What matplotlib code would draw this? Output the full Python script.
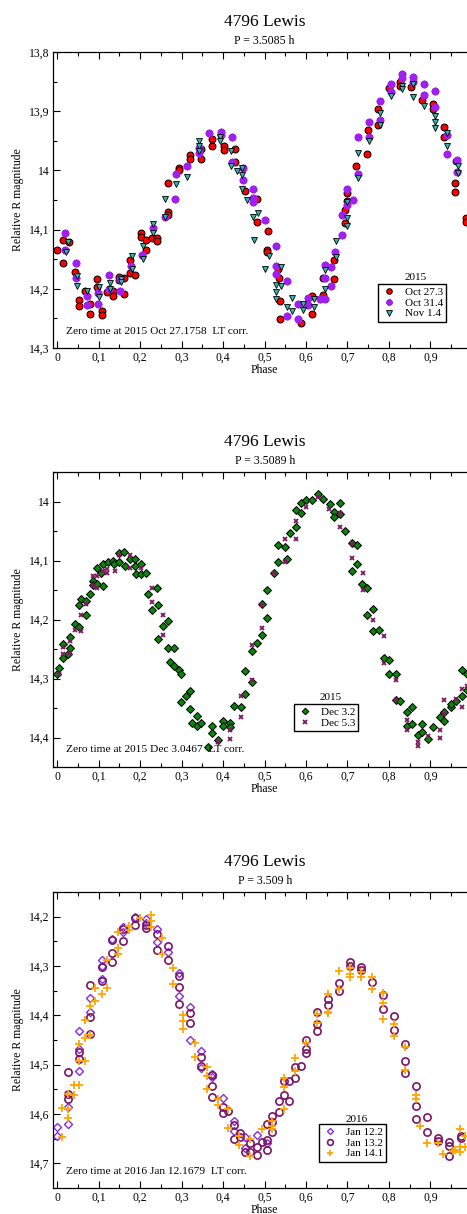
import numpy as np
import matplotlib
matplotlib.use("Agg")
import matplotlib.pyplot as plt
from matplotlib.ticker import MultipleLocator, FuncFormatter

plt.rcParams['font.family'] = ['Liberation Serif', 'DejaVu Serif']

# ---------------- data (phase, relative R magnitude) ----------------
oct27 = [(0.000, 14.134), (0.0145, 14.118), (0.028, 14.121), (0.0145, 14.157), (0.043, 14.172), (0.053, 14.219),
         (0.053, 14.229), (0.079, 14.226), (0.079, 14.242), (0.068, 14.203), (0.096, 14.183), (0.096, 14.197),
         (0.107, 14.237), (0.107, 14.244), (0.121, 14.206), (0.134, 14.204), (0.134, 14.212), (0.149, 14.180),
         (0.149, 14.185), (0.160, 14.181), (0.160, 14.209), (0.175, 14.174), (0.175, 14.151), (0.187, 14.177),
         (0.202, 14.106), (0.202, 14.112), (0.213, 14.118), (0.213, 14.135), (0.228, 14.114), (0.240, 14.114),
         (0.240, 14.120), (0.266, 14.070), (0.266, 14.076), (0.266, 14.021), (0.294, 13.996), (0.294, 14.000),
         (0.320, 13.974), (0.320, 13.981), (0.346, 13.964), (0.346, 13.980), (0.374, 13.958), (0.374, 13.947),
         (0.401, 13.958), (0.401, 13.966), (0.429, 13.964), (0.429, 13.985), (0.4535, 14.034), (0.481, 14.048),
         (0.482, 14.088), (0.508, 14.103), (0.507, 14.135), (0.507, 14.138), (0.533, 14.167), (0.535, 14.181),
         (0.538, 14.221), (0.538, 14.251), (0.589, 14.257), (0.615, 14.212), (0.615, 14.242), (0.641, 14.210),
         (0.641, 14.181), (0.668, 14.152), (0.668, 14.183), (0.695, 14.067), (0.695, 14.089), (0.698, 14.039),
         (0.698, 14.052), (0.721, 13.992), (0.747, 13.972), (0.750, 13.931), (0.774, 13.923), (0.774, 13.896),
         (0.800, 13.860), (0.827, 13.851), (0.827, 13.858), (0.853, 13.859), (0.881, 13.881), (0.907, 13.888),
         (0.907, 13.896), (0.934, 13.927), (0.934, 13.944), (0.961, 13.984), (0.960, 14.021), (0.960, 14.037),
         (0.986, 14.080), (0.986, 14.088)]

oct31 = [(0.0185, 14.106), (0.0185, 14.135), (0.045, 14.156), (0.045, 14.182), (0.072, 14.213), (0.072, 14.228),
         (0.099, 14.207), (0.099, 14.225), (0.125, 14.176), (0.125, 14.201), (0.152, 14.204), (0.152, 14.183),
         (0.178, 14.162), (0.205, 14.143), (0.232, 14.097), (0.259, 14.079), (0.285, 14.049), (0.286, 14.006),
         (0.313, 13.993), (0.341, 13.962), (0.341, 13.970), (0.367, 13.936), (0.394, 13.935), (0.394, 13.940),
         (0.421, 13.944), (0.421, 13.985), (0.448, 13.996), (0.448, 14.016), (0.473, 14.032), (0.473, 14.046),
         (0.473, 14.053), (0.500, 14.083), (0.527, 14.127), (0.527, 14.162), (0.527, 14.175), (0.553, 14.186),
         (0.553, 14.246), (0.580, 14.251), (0.580, 14.226), (0.606, 14.215), (0.606, 14.227), (0.633, 14.218),
         (0.646, 14.182), (0.646, 14.159), (0.646, 14.217), (0.660, 14.163), (0.660, 14.195), (0.670, 14.137),
         (0.687, 14.109), (0.687, 14.075), (0.698, 14.032), (0.698, 14.059), (0.713, 14.050), (0.725, 13.944),
         (0.725, 14.006), (0.751, 13.918), (0.751, 13.943), (0.778, 13.882), (0.778, 13.915), (0.805, 13.868),
         (0.805, 13.854), (0.832, 13.837), (0.832, 13.844), (0.859, 13.842), (0.859, 13.850), (0.885, 13.854),
         (0.885, 13.873), (0.912, 13.866), (0.912, 13.893), (0.939, 13.940), (0.939, 13.972), (0.965, 13.982),
         (0.965, 14.003)]

nov1 = [(0.020, 14.138), (0.025, 14.121), (0.047, 14.178), (0.047, 14.196), (0.072, 14.203), (0.100, 14.197),
        (0.100, 14.214), (0.127, 14.190), (0.127, 14.200), (0.153, 14.183), (0.153, 14.189), (0.180, 14.145),
        (0.180, 14.166), (0.207, 14.128), (0.207, 14.150), (0.232, 14.090), (0.232, 14.105), (0.259, 14.048),
        (0.259, 14.078), (0.286, 14.023), (0.314, 14.011), (0.341, 13.951), (0.341, 13.959), (0.341, 13.968),
        (0.392, 13.944), (0.392, 13.951), (0.418, 13.992), (0.418, 13.968), (0.433, 14.001), (0.446, 13.996),
        (0.446, 14.007), (0.446, 14.032), (0.458, 14.050), (0.473, 14.078), (0.475, 14.118), (0.485, 14.072),
        (0.501, 14.166), (0.511, 14.144), (0.527, 14.193), (0.527, 14.217), (0.527, 14.205), (0.540, 14.196),
        (0.540, 14.164), (0.553, 14.230), (0.566, 14.216), (0.566, 14.238), (0.593, 14.226), (0.593, 14.235),
        (0.620, 14.217), (0.620, 14.230), (0.646, 14.168), (0.646, 14.200), (0.673, 14.146), (0.673, 14.120),
        (0.700, 14.081), (0.700, 14.094), (0.700, 14.054), (0.726, 14.013), (0.726, 13.970), (0.751, 13.951),
        (0.778, 13.903), (0.778, 13.923), (0.806, 13.875), (0.832, 13.857), (0.832, 13.863), (0.859, 13.876),
        (0.859, 13.854), (0.885, 13.891), (0.912, 13.908), (0.912, 13.919), (0.912, 13.928), (0.939, 13.937),
        (0.939, 13.958), (0.966, 13.992), (0.966, 14.005)]

dec3 = [(0.056, 14.165), (0.079, 14.156), (0.085, 14.134), (0.085, 14.141), (0.095, 14.113), (0.095, 14.140),
        (0.106, 14.122), (0.111, 14.106), (0.111, 14.143), (0.123, 14.103), (0.134, 14.101), (0.137, 14.106),
        (0.149, 14.087), (0.149, 14.102), (0.160, 14.086), (0.164, 14.110), (0.176, 14.097), (0.187, 14.097),
        (0.187, 14.110), (0.191, 14.123), (0.202, 14.106), (0.202, 14.123), (0.214, 14.121), (0.218, 14.156),
        (0.240, 14.146), (0.507, 14.150), (0.523, 14.121), (0.533, 14.074), (0.533, 14.102), (0.549, 14.077),
        (0.553, 14.098), (0.561, 14.053), (0.575, 14.044), (0.575, 14.014), (0.588, 14.003), (0.588, 14.020),
        (0.601, 13.998), (0.615, 13.997), (0.630, 13.988), (0.642, 13.996), (0.658, 14.005), (0.668, 14.017),
        (0.668, 14.027), (0.682, 14.003), (0.682, 14.022), (0.695, 14.050), (0.710, 14.070), (0.722, 14.074),
        (0.722, 14.106), (0.710, 14.117), (0.736, 14.140), (0.747, 14.146),
        (0.000, 14.293), (0.005, 14.283), (0.0145, 14.241), (0.0145, 14.265), (0.026, 14.259), (0.031, 14.230),
        (0.031, 14.248), (0.042, 14.208), (0.052, 14.176), (0.053, 14.212), (0.069, 14.168), (0.069, 14.192),
        (0.229, 14.184), (0.244, 14.175), (0.256, 14.211), (0.266, 14.203), (0.244, 14.233), (0.267, 14.248),
        (0.282, 14.248), (0.272, 14.272), (0.282, 14.278), (0.294, 14.286), (0.298, 14.292), (0.298, 14.339),
        (0.310, 14.330), (0.320, 14.321), (0.320, 14.351), (0.324, 14.376), (0.336, 14.381), (0.336, 14.363),
        (0.347, 14.375), (0.364, 14.416), (0.374, 14.380), (0.374, 14.393), (0.388, 14.405), (0.400, 14.372),
        (0.400, 14.380), (0.417, 14.375), (0.417, 14.383), (0.427, 14.346), (0.442, 14.348), (0.454, 14.326),
        (0.454, 14.288), (0.469, 14.306), (0.469, 14.253), (0.481, 14.240), (0.495, 14.227), (0.495, 14.173),
        (0.507, 14.197), (0.747, 14.192), (0.762, 14.182), (0.762, 14.220), (0.775, 14.217), (0.789, 14.265),
        (0.801, 14.268), (0.801, 14.293), (0.816, 14.293), (0.816, 14.336), (0.827, 14.338), (0.843, 14.357),
        (0.843, 14.381), (0.855, 14.348), (0.855, 14.377), (0.869, 14.395), (0.881, 14.377), (0.881, 14.390),
        (0.895, 14.402), (0.907, 14.383), (0.923, 14.366), (0.934, 14.372), (0.934, 14.356), (0.949, 14.348),
        (0.949, 14.343), (0.961, 14.338), (0.976, 14.329), (0.976, 14.285), (0.988, 14.319), (0.988, 14.293)]

dec5 = [(0.085, 14.126), (0.085, 14.144), (0.096, 14.126), (0.096, 14.146), (0.111, 14.117), (0.121, 14.114),
        (0.121, 14.121), (0.139, 14.117), (0.149, 14.090), (0.175, 14.091), (0.175, 14.113), (0.202, 14.113),
        (0.228, 14.147), (0.523, 14.121), (0.549, 14.063), (0.549, 14.102), (0.575, 14.033), (0.575, 14.063),
        (0.601, 14.010), (0.630, 13.993), (0.656, 14.013), (0.682, 14.020), (0.682, 14.043), (0.710, 14.071),
        (0.710, 14.095), (0.737, 14.121), (0.737, 14.150),
        (0.005, 14.293), (0.0145, 14.246), (0.0145, 14.259), (0.031, 14.237), (0.031, 14.257), (0.042, 14.218),
        (0.057, 14.220), (0.057, 14.193), (0.069, 14.173), (0.229, 14.171), (0.256, 14.193), (0.256, 14.227),
        (0.442, 14.329), (0.442, 14.365), (0.417, 14.387), (0.417, 14.402), (0.388, 14.407), (0.469, 14.302),
        (0.469, 14.244), (0.495, 14.214), (0.495, 14.175), (0.762, 14.201), (0.789, 14.228), (0.789, 14.273),
        (0.816, 14.303), (0.816, 14.336), (0.843, 14.370), (0.843, 14.387), (0.869, 14.407), (0.869, 14.414),
        (0.895, 14.398), (0.923, 14.387), (0.923, 14.401), (0.934, 14.361), (0.934, 14.337), (0.961, 14.335),
        (0.976, 14.318), (0.976, 14.348), (0.988, 14.313)]

jan12 = [(0.079, 14.393), (0.079, 14.364), (0.107, 14.287), (0.107, 14.300), (0.107, 14.327), (0.133, 14.245),
         (0.159, 14.220), (0.159, 14.231), (0.187, 14.201), (0.213, 14.205), (0.213, 14.213), (0.240, 14.224),
         (0.240, 14.251), (0.266, 14.271), (0.293, 14.315), (0.293, 14.361), (0.320, 14.384),
         (0.000, 14.627), (0.000, 14.644), (0.0265, 14.586), (0.0265, 14.620), (0.053, 14.432), (0.053, 14.468),
         (0.053, 14.513), (0.320, 14.450), (0.347, 14.473), (0.347, 14.507), (0.374, 14.518), (0.374, 14.524),
         (0.400, 14.568), (0.427, 14.615), (0.427, 14.634), (0.454, 14.646), (0.454, 14.668), (0.481, 14.642),
         (0.507, 14.658)]

jan13 = [(0.079, 14.339), (0.079, 14.403), (0.107, 14.303), (0.107, 14.330), (0.133, 14.291), (0.133, 14.273),
         (0.133, 14.247), (0.159, 14.250), (0.159, 14.224), (0.187, 14.217), (0.187, 14.203), (0.213, 14.217),
         (0.213, 14.222), (0.240, 14.235), (0.240, 14.268), (0.266, 14.259), (0.266, 14.287), (0.293, 14.320),
         (0.293, 14.342), (0.293, 14.378), (0.320, 14.395), (0.626, 14.393), (0.653, 14.367), (0.653, 14.380),
         (0.679, 14.334), (0.679, 14.350), (0.705, 14.292), (0.705, 14.301), (0.733, 14.303), (0.733, 14.308),
         (0.759, 14.332), (0.786, 14.359), (0.786, 14.388), (0.812, 14.401),
         (0.0265, 14.515), (0.0265, 14.559), (0.0265, 14.570), (0.053, 14.474), (0.053, 14.488), (0.080, 14.437),
         (0.320, 14.415), (0.347, 14.484), (0.347, 14.502), (0.374, 14.520), (0.374, 14.543), (0.374, 14.566),
         (0.400, 14.586), (0.400, 14.597), (0.413, 14.593), (0.427, 14.622), (0.427, 14.651), (0.441, 14.638),
         (0.441, 14.646), (0.454, 14.678), (0.466, 14.659), (0.466, 14.678), (0.481, 14.667), (0.481, 14.683),
         (0.493, 14.656), (0.507, 14.653), (0.507, 14.673), (0.507, 14.621), (0.519, 14.605), (0.519, 14.617),
         (0.519, 14.636), (0.535, 14.574), (0.535, 14.595), (0.547, 14.561), (0.547, 14.534), (0.560, 14.534),
         (0.560, 14.573), (0.573, 14.527), (0.573, 14.505), (0.588, 14.503), (0.600, 14.469), (0.600, 14.477),
         (0.600, 14.449), (0.626, 14.418), (0.626, 14.432), (0.812, 14.429), (0.840, 14.459), (0.840, 14.493),
         (0.840, 14.517), (0.865, 14.544), (0.865, 14.583), (0.865, 14.610), (0.892, 14.606), (0.892, 14.636),
         (0.919, 14.649), (0.919, 14.654), (0.946, 14.657), (0.946, 14.665), (0.946, 14.686), (0.973, 14.644),
         (0.973, 14.649)]

jan14 = [(0.079, 14.381), (0.092, 14.344), (0.092, 14.371), (0.107, 14.357), (0.119, 14.344), (0.119, 14.287),
         (0.146, 14.276), (0.146, 14.264), (0.146, 14.232), (0.173, 14.218), (0.173, 14.227), (0.200, 14.203),
         (0.226, 14.196), (0.226, 14.209), (0.226, 14.220), (0.253, 14.243), (0.253, 14.276), (0.278, 14.304),
         (0.278, 14.337), (0.304, 14.400), (0.626, 14.398), (0.653, 14.356), (0.653, 14.393), (0.679, 14.310),
         (0.679, 14.346), (0.705, 14.305), (0.705, 14.317), (0.705, 14.322), (0.733, 14.313), (0.733, 14.322),
         (0.759, 14.322), (0.759, 14.346), (0.786, 14.354), (0.786, 14.374), (0.786, 14.408),
         (0.0105, 14.588), (0.0105, 14.646), (0.0265, 14.559), (0.0265, 14.590), (0.0265, 14.608), (0.040, 14.542),
         (0.040, 14.561), (0.053, 14.458), (0.053, 14.493), (0.053, 14.541), (0.067, 14.445), (0.067, 14.493),
         (0.067, 14.410), (0.080, 14.439), (0.304, 14.412), (0.304, 14.427), (0.332, 14.457), (0.332, 14.484),
         (0.360, 14.505), (0.360, 14.522), (0.360, 14.549), (0.387, 14.570), (0.387, 14.581), (0.413, 14.590),
         (0.413, 14.629), (0.439, 14.644), (0.439, 14.663), (0.466, 14.651), (0.466, 14.686), (0.493, 14.631),
         (0.519, 14.615), (0.519, 14.624), (0.519, 14.631), (0.547, 14.546), (0.547, 14.527), (0.547, 14.589),
         (0.573, 14.513), (0.573, 14.486), (0.600, 14.456), (0.626, 14.415), (0.653, 14.395), (0.812, 14.418),
         (0.812, 14.442), (0.839, 14.464), (0.839, 14.510), (0.865, 14.561), (0.865, 14.570), (0.876, 14.625),
         (0.893, 14.659), (0.919, 14.659), (0.931, 14.681), (0.954, 14.676), (0.960, 14.672), (0.971, 14.678),
         (0.971, 14.631), (0.971, 14.666), (0.983, 14.644), (0.983, 14.666)]

periods = ["P = 3.5085 h", "P = 3.5089 h", "P = 3.509 h"]
zero_times = ["Zero time at 2015 Oct 27.1758  LT corr.",
              "Zero time at 2015 Dec 3.0467  LT corr.",
              "Zero time at 2016 Jan 12.1679  LT corr."]
years = ["2015", "2015", "2016"]
ylims = [(14.3, 13.8), (14.45, 13.95), (14.75, 14.15)]

# ---------------- layout (pixels of a 467x1214 image) ----------------
W, H = 467, 1214
fig = plt.figure(figsize=(W / 100, H / 100), dpi=100)


def fx(x):
    return x / W


def fy(y):
    return 1 - y / H


def comma_fmt(v, pos):
    s = f"{v:.2f}".rstrip("0").rstrip(".")
    return s.replace(".", ",")


# axes left edge at phase -0.0095; 0.1 phase = 41.45 px; right edge runs past the image
x0_px, scale = 57.3, 414.5
xmin, xmax = -0.0095, 1.01
left_px = x0_px + xmin * scale
right_px = x0_px + xmax * scale

panels = [(52, 348), (472, 767), (892, 1188)]


def make_axes(i):
    top, bot = panels[i]
    ax = fig.add_axes([fx(left_px), fy(bot), (right_px - left_px) / W, (bot - top) / H])
    ax.set_xlim(xmin, xmax)
    ax.set_ylim(*ylims[i])
    ax.xaxis.set_minor_locator(MultipleLocator(0.05))
    ax.yaxis.set_major_locator(MultipleLocator(0.1))
    ax.yaxis.set_minor_locator(MultipleLocator(0.05))
    ax.set_xticks(np.arange(0, 1.0, 0.1))
    ax.xaxis.set_major_formatter(FuncFormatter(comma_fmt))
    ax.yaxis.set_major_formatter(FuncFormatter(comma_fmt))
    ax.tick_params(which="both", direction="in", top=True, right=False, width=0.8)
    ax.tick_params(which="major", length=5.2, labelsize=8.4)
    ax.tick_params(which="minor", length=3)
    ax.tick_params(axis="x", pad=3)
    ax.tick_params(axis="y", pad=3)
    for s in ax.spines.values():
        s.set_linewidth(0.9)
    ax.spines["right"].set_visible(False)

    cx = fx((left_px + right_px) / 2)
    fig.text(cx, fy(top - 30), "4796 Lewis", ha="center", va="center", fontsize=12.5)
    fig.text(cx, fy(top - 11), periods[i], ha="center", va="center", fontsize=8.5)
    fig.text(cx, fy(bot + 22), "Phase", ha="center", va="center", fontsize=8.5)
    fig.text(fx(18), fy((top + bot) / 2), "Relative R magnitude", rotation=90,
             ha="center", va="center", fontsize=8.5)
    fig.text(fx(66), fy(bot - 17), zero_times[i], ha="left", va="center", fontsize=8.2)
    return ax


def xy(series):
    a = np.array(series)
    return a[:, 0], a[:, 1]


def add_legend(ax, handles, labels, box_left, box_top, title_xy, year):
    leg = ax.legend(handles, labels, loc="upper left",
                    bbox_to_anchor=(fx(box_left), fy(box_top)), bbox_transform=fig.transFigure,
                    fontsize=8, frameon=True, fancybox=False, edgecolor="black", framealpha=1,
                    borderpad=0.3, labelspacing=0.08, handlelength=1.3, handletextpad=0.8,
                    borderaxespad=0, markerscale=0.8)
    leg.get_frame().set_linewidth(1.0)
    fig.text(fx(title_xy[0]), fy(title_xy[1]), year, ha="center", va="center", fontsize=8)


# ---------------- panel 1 ----------------
ax1 = make_axes(0)
x, y = xy(oct27)
h1, = ax1.plot(x, y, ls="none", marker="o", ms=5, mfc="#ff0000", mec="black", mew=0.7)
x, y = xy(oct31)
h2, = ax1.plot(x, y, ls="none", marker=(8, 2, 0), ms=5.5, color="#a020f0", mew=1.5)
x, y = xy(nov1)
h3, = ax1.plot(x, y, ls="none", marker="v", ms=5, mfc="#33b5ad", mec="black", mew=0.6)
add_legend(ax1, [h1, h2, h3], ["Oct 27.3", "Oct 31.4", "Nov 1.4"], 378, 284, (416, 277), years[0])

# ---------------- panel 2 ----------------
ax2 = make_axes(1)
x, y = xy(dec3)
g1, = ax2.plot(x, y, ls="none", marker="D", ms=4.2, mfc="#0b840b", mec="black", mew=0.7)
x, y = xy(dec5)
g2, = ax2.plot(x, y, ls="none", marker="x", ms=3.5, color="#7d1a5c", mew=1.3)
add_legend(ax2, [g1, g2], ["Dec 3.2", "Dec 5.3"], 294, 704, (331, 697), years[1])

# ---------------- panel 3 ----------------
ax3 = make_axes(2)
x, y = xy(jan12)
k1, = ax3.plot(x, y, ls="none", marker="D", ms=3.8, mfc="none", mec="#8a2be2", mew=1.0)
x, y = xy(jan13)
k2, = ax3.plot(x, y, ls="none", marker="o", ms=5.2, mfc="none", mec="#7a1468", mew=1.2)
x, y = xy(jan14)
k3, = ax3.plot(x, y, ls="none", marker="+", ms=6, color="#ffa500", mew=1.3)
add_legend(ax3, [k1, k2, k3], ["Jan 12.2", "Jan 13.2", "Jan 14.1"], 319, 1124, (357, 1119), years[2])

fig.savefig("out.png", dpi=100)
